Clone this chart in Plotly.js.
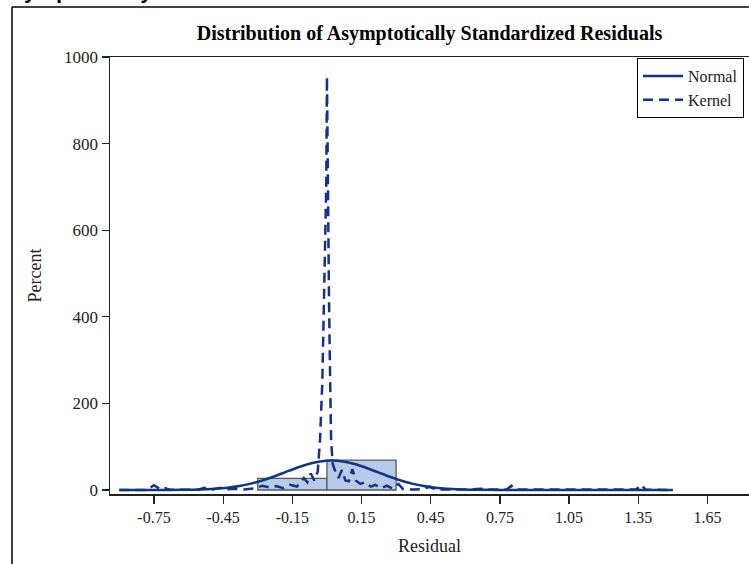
<!DOCTYPE html>
<html>
<head>
<meta charset="utf-8">
<script src="https://cdn.plot.ly/plotly-3.0.1.min.js"></script>
<style>html,body{margin:0;padding:0;background:#fff;overflow:hidden}#chart{width:749px;height:564px}</style>
</head>
<body>
<div id="chart"></div>
<script>
// Histogram bins (midpoints) and percents
const binMid = [-0.15, 0.15];
const binPct = [27, 69];

// Normal density curve
const normX = [-0.90, -0.68, -0.58, -0.48, -0.43, -0.38, -0.33, -0.28, -0.23, -0.18, -0.13, -0.08, -0.03, 0.02, 0.07, 0.12, 0.17, 0.22, 0.27, 0.32, 0.37, 0.42, 0.47, 0.52, 0.62, 0.75, 1.00, 1.50];
const normY = [0, 0.2, 0.8, 3.0, 5.4, 9.2, 14.7, 22.1, 31.1, 41.2, 51.3, 60.0, 65.9, 68, 65.9, 60.0, 51.3, 41.2, 31.1, 22.1, 14.7, 9.2, 5.4, 3.0, 0.8, 0.1, 0, 0];

// Kernel density curve
const kernX = [-0.90, -0.78, -0.75, -0.72, -0.70, -0.68, -0.56, -0.53, -0.50, -0.46, -0.43, -0.40, -0.36, -0.31, -0.28, -0.25, -0.22, -0.19, -0.16, -0.13, -0.10, -0.085, -0.07, -0.055, -0.04, -0.03, -0.02, -0.012, -0.003, 0.0, 0.003, 0.009, 0.014, 0.018, 0.025, 0.035, 0.05, 0.065, 0.08, 0.095, 0.11, 0.125, 0.145, 0.165, 0.19, 0.21, 0.235, 0.26, 0.285, 0.31, 0.33, 0.38, 0.42, 0.445, 0.47, 0.60, 0.67, 0.70, 0.78, 0.80, 0.82, 1.34, 1.365, 1.38, 1.50];
const kernY = [0, 0, 11, 1, 4, 0.5, 0.5, 5, 1, 5, 2, 3, 1, 4, 10, 6, 9, 4, 12, 8, 28, 18, 38, 22, 42, 115, 250, 440, 700, 955, 700, 440, 250, 115, 60, 45, 28, 46, 22, 20, 48, 22, 14, 18, 8, 12, 4, 10, 3, 14, 2, 1, 2, 8, 1, 1, 3, 1, 1, 10, 1, 1, 12, 1, 0];

const xTicks = [-0.75, -0.45, -0.15, 0.15, 0.45, 0.75, 1.05, 1.35, 1.65];
const xTickText = ["-0.75", "-0.45", "-0.15", "0.15", "0.45", "0.75", "1.05", "1.35", "1.65"];
const yTicks = [0, 200, 400, 600, 800, 1000];

const lineColor = "rgb(18,52,132)";
const serif = "Liberation Serif, Times New Roman, serif";

const traces = [
  {type: "bar", x: binMid, y: binPct, width: 0.3, showlegend: false, hoverinfo: "skip",
   marker: {color: "rgb(183,203,232)", line: {color: "rgb(90,90,90)", width: 1.3}}},
  {type: "scatter", mode: "lines", name: "Normal", x: normX, y: normY, line: {color: lineColor, width: 2.5, shape: "spline", smoothing: 0.6}},
  {type: "scatter", mode: "lines", name: "Kernel", x: kernX, y: kernY, line: {color: lineColor, width: 2.5, dash: "10px,6px"}}
];

const PW = 639, PH = 437;
const px = v => (v - 110) / PW;
const py = v => (494 - v) / PH;

const layout = {
  width: 749, height: 564,
  margin: {l: 110, r: 0, t: 57, b: 70, pad: 0},
  paper_bgcolor: "#fff", plot_bgcolor: "#fff",
  font: {family: serif, color: "#222", size: 16},
  title: {text: "<b>Distribution of Asymptotically Standardized Residuals</b>", font: {family: serif, size: 20, color: "#000"}, x: 0.5, xref: "paper", xanchor: "center", y: 1 - 33/564, yanchor: "middle"},
  xaxis: {range: [-0.9406, 1.830], tickvals: xTicks, ticktext: xTickText, ticks: "outside", ticklen: 8, tickwidth: 1.3, tickcolor: "#222",
          showline: true, linecolor: "#222", linewidth: 1.5, mirror: true, showgrid: false, zeroline: false,
          tickfont: {family: serif, size: 16, color: "#222"},
          title: {text: "Residual", font: {family: serif, size: 18, color: "#222"}, standoff: 14}},
  yaxis: {range: [-9.2, 1000], tickvals: yTicks, ticks: "outside", ticklen: 7, tickwidth: 1.3, tickcolor: "#222",
          showline: true, linecolor: "#222", linewidth: 1.5, showgrid: false, zeroline: false,
          tickfont: {family: serif, size: 17, color: "#222"},
          title: {text: "Percent", font: {family: serif, size: 18, color: "#222"}, standoff: 18}},
  legend: {x: px(744), xanchor: "right", y: py(58), yanchor: "top", bgcolor: "#fff", bordercolor: "#000", borderwidth: 1,
           font: {family: serif, size: 16, color: "#222"}, tracegroupgap: 0, itemwidth: 40},
  bargap: 0,
  showlegend: true,
  shapes: [
    {type: "line", xref: "paper", yref: "paper", x0: px(12), x1: px(12), y0: py(7), y1: py(570), line: {color: "#000", width: 1.5}},
    {type: "line", xref: "paper", yref: "paper", x0: px(12), x1: px(760), y0: py(7), y1: py(7), line: {color: "#000", width: 1.5}}
  ],
  annotations: [
    {text: "<b>Asymptotically Standardized Residuals</b>", xref: "paper", yref: "paper", x: px(-6), xanchor: "left", y: py(5), yanchor: "bottom",
     showarrow: false, font: {family: "Liberation Sans, Arial, sans-serif", size: 22, color: "#000"}}
  ]
};

Plotly.newPlot("chart", traces, layout, {displayModeBar: false, staticPlot: true});
</script>
</body>
</html>
